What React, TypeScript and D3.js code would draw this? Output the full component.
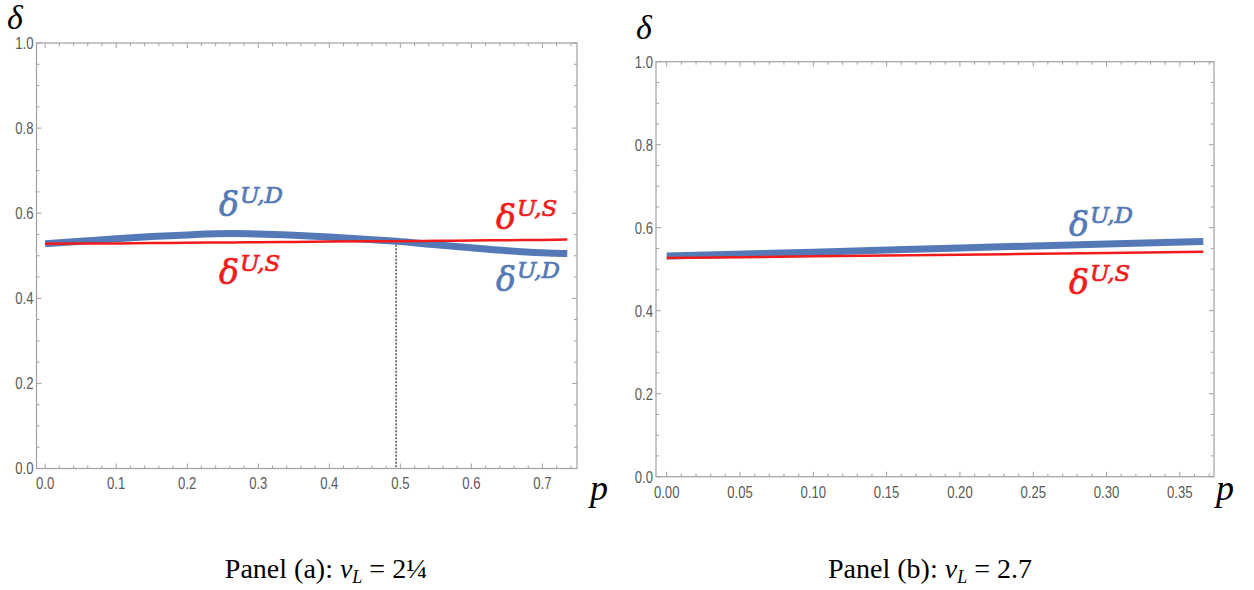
import React from 'react';
import * as d3 from 'd3';

// panel (a): v_L = 2 1/4
const pA = [0, 0.05, 0.1, 0.15, 0.2, 0.265, 0.3, 0.35, 0.4, 0.45, 0.494, 0.55, 0.6, 0.65, 0.7, 0.735];
const deltaUD_a = [0.528, 0.534, 0.540, 0.545, 0.549, 0.552, 0.551, 0.548, 0.544, 0.539, 0.534, 0.526, 0.519, 0.512, 0.507, 0.505];
const deltaUS_a = [0.528, 0.5285, 0.529, 0.5297, 0.5305, 0.5313, 0.532, 0.5326, 0.5332, 0.5338, 0.534, 0.535, 0.5357, 0.5365, 0.5372, 0.538];
const crossA = 0.494;

// panel (b): v_L = 2.7
const pB = [0, 0.1, 0.2, 0.3, 0.366];
const deltaUD_b = [0.532, 0.541, 0.551, 0.561, 0.567];
const deltaUS_b = [0.527, 0.531, 0.535, 0.539, 0.542];

const yTicks = [0, 0.2, 0.4, 0.6, 0.8, 1.0];
const xTicksA = [0, 0.1, 0.2, 0.3, 0.4, 0.5, 0.6, 0.7];
const xTicksB = [0, 0.05, 0.1, 0.15, 0.2, 0.25, 0.3, 0.35];

const BLUE = '#5479b6';
const RED = '#f01c1c';
const FRAME = '#a0a0a0';
const TICKTXT = '#5a5a5a';
const TICKFONT = 'Liberation Sans, Arial';

type PanelProps = {
  left: number; right: number; top: number; bottom: number;
  xDomain: [number, number];
  xTicks: number[]; xMinorStep: number; xFmt: string;
  p: number[]; ud: number[]; us: number[];
  cross?: number;
  labels: { x: number; y: number; sup: string; color: string }[];
};

const DeltaLabel = ({ x, y, sup, color }: { x: number; y: number; sup: string; color: string }) => (
  <text x={x} y={y} fill={color} stroke={color} strokeWidth={0.7} fontFamily="DejaVu Serif" fontStyle="italic">
    <tspan fontSize={33}>δ</tspan>
    <tspan fontSize={23} dy={-13} dx={1}>{sup}</tspan>
  </text>
);

const Panel = (pr: PanelProps) => {
  const x = d3.scaleLinear().domain(pr.xDomain).range([pr.left, pr.right]);
  const y = d3.scaleLinear().domain([0, 1]).range([pr.bottom, pr.top]);
  const line = d3.line<number>().x((d, i) => x(pr.p[i])).y((d) => y(d)).curve(d3.curveMonotoneX);
  const fmt = d3.format(pr.xFmt);

  const xMinor = d3.range(0, pr.xDomain[1] + 1e-9, pr.xMinorStep).filter((v) => v >= pr.xDomain[0]);
  const yMinor = d3.range(0, 1.0001, 0.05);
  const isMajorX = (v: number) => pr.xTicks.some((t) => Math.abs(t - v) < 1e-6);
  const isMajorY = (v: number) => yTicks.some((t) => Math.abs(t - v) < 1e-6);
  const crossY = pr.cross !== undefined ? y(pr.us[pr.p.indexOf(pr.cross)]) : 0;

  return (
    <g>
      <rect x={pr.left} y={pr.top} width={pr.right - pr.left} height={pr.bottom - pr.top}
        fill="none" stroke={FRAME} strokeWidth={1.2} />
      {xMinor.map((v, i) => {
        const len = isMajorX(v) ? 5 : 3;
        return (
          <g key={'xm' + i} stroke={FRAME} strokeWidth={1}>
            <line x1={x(v)} x2={x(v)} y1={pr.bottom} y2={pr.bottom - len} />
            <line x1={x(v)} x2={x(v)} y1={pr.top} y2={pr.top + len} />
          </g>
        );
      })}
      {yMinor.map((v, i) => {
        const len = isMajorY(v) ? 5 : 3;
        return (
          <g key={'ym' + i} stroke={FRAME} strokeWidth={1}>
            <line x1={pr.left} x2={pr.left + len} y1={y(v)} y2={y(v)} />
            <line x1={pr.right} x2={pr.right - len} y1={y(v)} y2={y(v)} />
          </g>
        );
      })}
      {pr.xTicks.map((t) => (
        <text key={'xt' + t} x={x(t)} y={pr.bottom + 21} textAnchor="middle" fontSize={16}
          fill={TICKTXT} fontFamily={TICKFONT} transform={`translate(${x(t)},0) scale(0.82,1) translate(${-x(t)},0)`}>{fmt(t)}</text>
      ))}
      {yTicks.map((t) => (
        <text key={'yt' + t} x={pr.left - 3} y={y(t) + 6} textAnchor="end" fontSize={16}
          fill={TICKTXT} fontFamily={TICKFONT} transform={`translate(${pr.left - 3},0) scale(0.82,1) translate(${-(pr.left - 3)},0)`}>{d3.format('.1f')(t)}</text>
      ))}
      {pr.cross !== undefined && (
        <line x1={x(pr.cross)} x2={x(pr.cross)} y1={crossY} y2={pr.bottom}
          stroke="#222" strokeWidth={1.2} strokeDasharray="2,1.5" />
      )}
      <path d={line(pr.ud) || ''} fill="none" stroke={BLUE} strokeWidth={7} />
      <path d={line(pr.us) || ''} fill="none" stroke={RED} strokeWidth={2.5} />
      {pr.labels.map((l, i) => <DeltaLabel key={i} {...l} />)}
    </g>
  );
};

export default function App() {
  return (
    <svg width={1254} height={590} style={{ position: 'absolute', left: 0, top: 0, background: '#fff' }}>
      <Panel left={36.5} right={577} top={43} bottom={468.5} xDomain={[-0.0122, 0.7487]}
        xTicks={xTicksA} xMinorStep={0.02} xFmt=".1f"
        p={pA} ud={deltaUD_a} us={deltaUS_a} cross={crossA}
        labels={[
          { x: 219, y: 216, sup: 'U,D', color: BLUE },
          { x: 219, y: 284, sup: 'U,S', color: RED },
          { x: 496, y: 229, sup: 'U,S', color: RED },
          { x: 496, y: 291, sup: 'U,D', color: BLUE },
        ]} />
      <Panel left={656} right={1214} top={61.7} bottom={476.7} xDomain={[-0.0073, 0.3733]}
        xTicks={xTicksB} xMinorStep={0.01} xFmt=".2f"
        p={pB} ud={deltaUD_b} us={deltaUS_b}
        labels={[
          { x: 1069, y: 236, sup: 'U,D', color: BLUE },
          { x: 1069, y: 294, sup: 'U,S', color: RED },
        ]} />
      <text x={7} y={29} fontSize={34} fontStyle="italic" fontFamily="Liberation Serif">δ</text>
      <text x={590} y={500} fontSize={36} fontStyle="italic" fontFamily="Liberation Serif">p</text>
      <text x={636} y={39} fontSize={34} fontStyle="italic" fontFamily="Liberation Serif">δ</text>
      <text x={1216} y={500} fontSize={36} fontStyle="italic" fontFamily="Liberation Serif">p</text>
      <text x={326} y={578} textAnchor="middle" fontSize={28} fontFamily="Liberation Serif">
        Panel (a): <tspan fontStyle="italic">v</tspan><tspan fontStyle="italic" fontSize={18} dy={5}>L</tspan><tspan dy={-5}> = 2¼</tspan>
      </text>
      <text x={930} y={578} textAnchor="middle" fontSize={28} fontFamily="Liberation Serif">
        Panel (b): <tspan fontStyle="italic">v</tspan><tspan fontStyle="italic" fontSize={18} dy={5}>L</tspan><tspan dy={-5}> = 2.7</tspan>
      </text>
    </svg>
  );
}
